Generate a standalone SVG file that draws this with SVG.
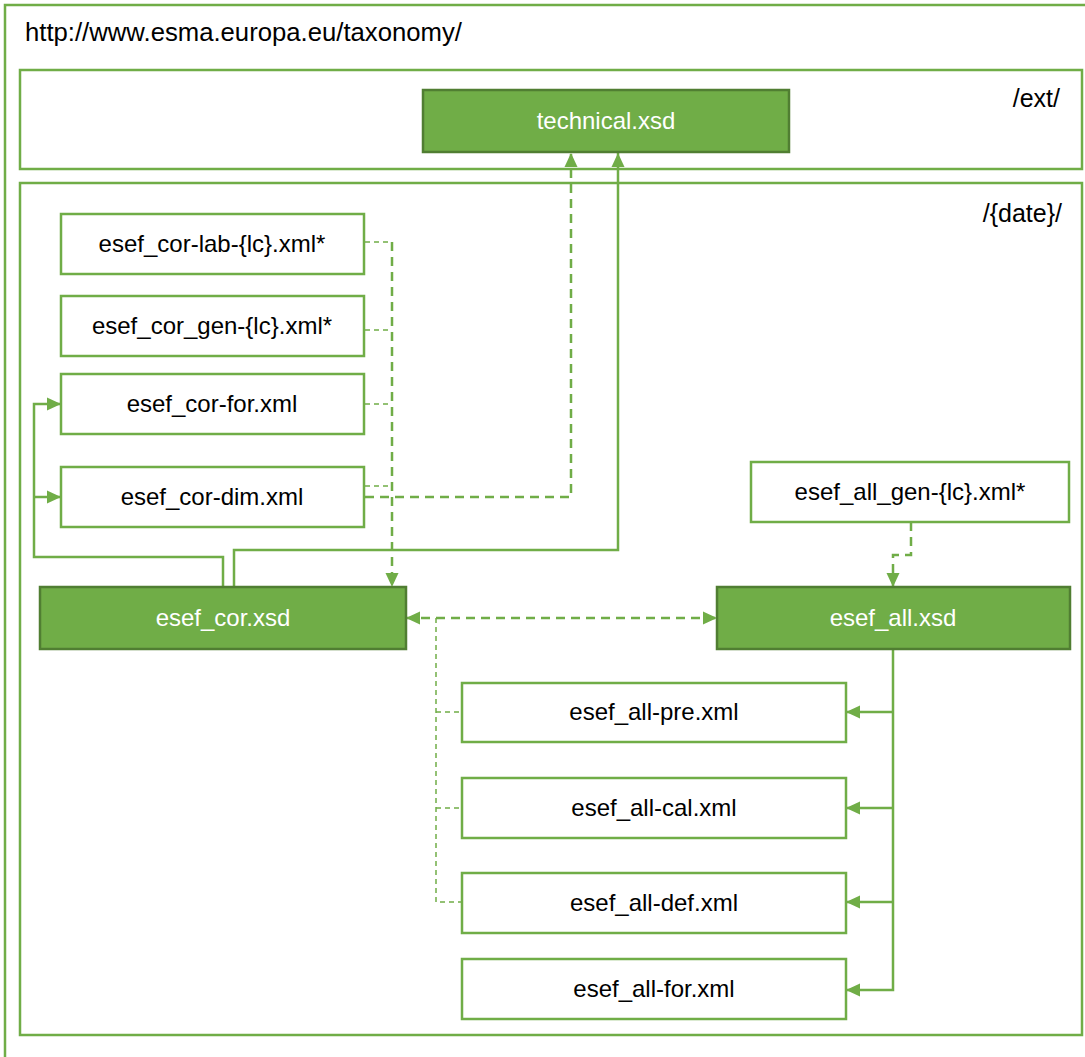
<svg xmlns="http://www.w3.org/2000/svg" width="1085" height="1057" viewBox="0 0 1085 1057">
<style>
.frame{fill:none;stroke:#70AD47;stroke-width:2.5}
.box{fill:#fff;stroke:#70AD47;stroke-width:2.5}
.gbox{fill:#70AD47;stroke:#507E32;stroke-width:2.5}
.t{font-family:"Liberation Sans",Arial,sans-serif;font-size:24px;text-anchor:middle;fill:#000}
.tw{fill:#fff}
.lbl{font-family:"Liberation Sans",Arial,sans-serif;font-size:25px;fill:#000}
.title{font-size:25.7px}
.solid{fill:none;stroke:#70AD47;stroke-width:2.5}
.dash{fill:none;stroke:#70AD47;stroke-width:2.5;stroke-dasharray:9 6}
.thin{fill:none;stroke:#70AD47;stroke-width:1.5;stroke-dasharray:5 4}
</style>
<defs>
<marker id="ah" markerUnits="userSpaceOnUse" markerWidth="15" markerHeight="14" refX="14" refY="7" orient="auto-start-reverse"><path d="M0,0.5 L14,7 L0,13.5 z" fill="#70AD47"/></marker>
</defs>
<rect width="1085" height="1057" fill="#fff"/>
<g id="frames">
<rect id="root" class="frame" x="5" y="5" width="1095" height="1070"/>
<text class="lbl title" x="25" y="41">http://www.esma.europa.eu/taxonomy/</text>
<rect id="ext" class="frame" x="20" y="70" width="1062" height="99"/>
<text class="lbl" x="1060" y="107" text-anchor="end">/ext/</text>
<rect id="date" class="frame" x="20" y="183" width="1062" height="852"/>
<text class="lbl" x="1062" y="222" text-anchor="end">/{date}/</text>
</g>
<g id="connectors">
<path class="thin" d="M365,242 H392 M365,330 H392 M365,404 H392 M365,486 H392"/>
<path class="dash" d="M392,242 V587" marker-end="url(#ah)"/>
<path class="dash" d="M365,497 H571 V153" marker-end="url(#ah)"/>
<path class="solid" d="M223,587 V557 H34 V404 H61" marker-end="url(#ah)"/>
<path class="solid" d="M34,497 H61" marker-end="url(#ah)"/>
<path class="solid" d="M234,587 V550 H618 V153" marker-end="url(#ah)"/>
<path class="dash" d="M406,618 H717" marker-start="url(#ah)" marker-end="url(#ah)"/>
<path class="thin" d="M436,618 V902 H462 M436,712 H462 M436,808 H462"/>
<path class="dash" d="M911,522 V555 H893 V587" marker-end="url(#ah)"/>
<path class="solid" d="M893,649 V990 H846" marker-end="url(#ah)"/>
<path class="solid" d="M893,712 H846" marker-end="url(#ah)"/>
<path class="solid" d="M893,808 H846" marker-end="url(#ah)"/>
<path class="solid" d="M893,902 H846" marker-end="url(#ah)"/>
</g>
<g id="technical"><rect class="gbox" x="423" y="90" width="366" height="62"/><text class="t tw" x="606" y="129">technical.xsd</text></g>
<g id="cor-lab"><rect class="box" x="61" y="214" width="303" height="60"/><text class="t" x="212" y="252">esef_cor-lab-{lc}.xml*</text></g>
<g id="cor-gen"><rect class="box" x="61" y="296" width="303" height="60"/><text class="t" x="212" y="334">esef_cor_gen-{lc}.xml*</text></g>
<g id="cor-for"><rect class="box" x="61" y="374" width="303" height="60"/><text class="t" x="212" y="412">esef_cor-for.xml</text></g>
<g id="cor-dim"><rect class="box" x="61" y="467" width="303" height="60"/><text class="t" x="212" y="505">esef_cor-dim.xml</text></g>
<g id="esef-cor"><rect class="gbox" x="40" y="587" width="366" height="62"/><text class="t tw" x="223" y="626">esef_cor.xsd</text></g>
<g id="all-gen"><rect class="box" x="751" y="462" width="318" height="60"/><text class="t" x="910" y="500">esef_all_gen-{lc}.xml*</text></g>
<g id="esef-all"><rect class="gbox" x="717" y="587" width="353" height="62"/><text class="t tw" x="893" y="626">esef_all.xsd</text></g>
<g id="all-pre"><rect class="box" x="462" y="683" width="384" height="59"/><text class="t" x="654" y="720">esef_all-pre.xml</text></g>
<g id="all-cal"><rect class="box" x="462" y="778" width="384" height="60"/><text class="t" x="654" y="816">esef_all-cal.xml</text></g>
<g id="all-def"><rect class="box" x="462" y="873" width="384" height="60"/><text class="t" x="654" y="911">esef_all-def.xml</text></g>
<g id="all-for"><rect class="box" x="462" y="959" width="384" height="60"/><text class="t" x="654" y="997">esef_all-for.xml</text></g>
</svg>
